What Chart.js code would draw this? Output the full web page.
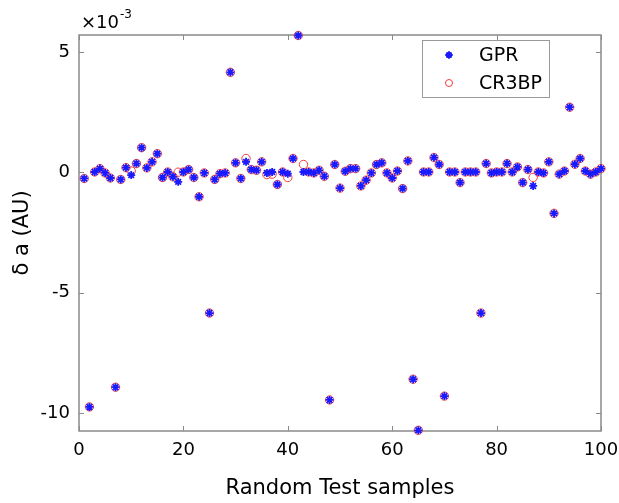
<!DOCTYPE html>
<html>
<head>
<meta charset="utf-8">
<script src="https://cdn.jsdelivr.net/npm/chart.js@4/dist/chart.umd.min.js"></script>
<style>
html,body{margin:0;padding:0;background:#fff;}
#wrap{width:619px;height:503px;}
</style>
</head>
<body>
<div id="wrap"><canvas id="c" width="619" height="503"></canvas></div>
<script>
// Sample index 1..100
const samples = [];
for (let i = 1; i <= 100; i++) samples.push(i);

// delta a values, in units of 1e-3 AU
const gprValues = [
  -0.26, -9.75, 0.01, 0.15, -0.03, -0.24, -8.93, -0.30, 0.19, -0.12,
   0.36,  1.02, 0.18, 0.43,  0.77, -0.22,  0.01, -0.19, -0.40, 0.01,
   0.11, -0.22, -1.02, -0.03, -5.85, -0.30, -0.06, -0.03, 4.15, 0.39,
  -0.26,  0.43, 0.11, 0.08,  0.43, -0.03,  0.01, -0.51,  0.01, -0.06,
   0.57,  5.68, 0.01, 0.01, -0.03,  0.08, -0.17, -9.46,  0.32, -0.66,
   0.04,  0.15, 0.15, -0.57, -0.33, -0.03, 0.32,  0.39, -0.03, -0.24,
   0.05, -0.68, 0.47, -8.60, -10.72, 0.01, 0.01,  0.61,  0.32, -9.30,
   0.01,  0.01, -0.43, 0.01,  0.01,  0.01, -5.85, 0.36, -0.03,  0.01,
   0.01,  0.36, 0.01, 0.22, -0.43,  0.11, -0.57,  0.01, -0.03,  0.43,
  -1.71, -0.08, 0.05, 2.70,  0.33,  0.57,  0.05, -0.08,  0.01,  0.15
];
const cr3bpValues = [
  -0.26, -9.75, 0.01, 0.15, -0.03, -0.24, -8.93, -0.30, 0.19, 0.05,
   0.36,  1.02, 0.18, 0.43,  0.77, -0.22,  0.01, -0.19, 0.00, 0.01,
   0.11, -0.22, -1.02, -0.03, -5.85, -0.30, -0.06, -0.03, 4.15, 0.39,
  -0.26,  0.57, 0.11, 0.08,  0.43, -0.10, -0.08, -0.51,  0.01, -0.22,
   0.57,  5.68, 0.32, 0.01, -0.03,  0.08, -0.17, -9.46,  0.32, -0.66,
   0.04,  0.15, 0.15, -0.57, -0.33, -0.03, 0.32,  0.39, -0.03, -0.24,
   0.05, -0.68, 0.47, -8.60, -10.72, 0.01, 0.01,  0.61,  0.32, -9.30,
   0.01,  0.01, -0.43, 0.01,  0.01,  0.01, -5.85, 0.36, -0.03,  0.01,
   0.01,  0.36, 0.01, 0.22, -0.43,  0.11, -0.22,  0.01, -0.03,  0.43,
  -1.71, -0.08, 0.05, 2.70,  0.33,  0.57,  0.05, -0.08,  0.01,  0.15
];
const xTicks = [0, 20, 40, 60, 80, 100];
const yTicks = [-10, -5, 0, 5];
const seriesNames = ['GPR', 'CR3BP'];
const xTitle = 'Random Test samples';
const yTitle = 'δ a (AU)';

const FONT = "'DejaVu Sans', 'Liberation Sans', Arial, sans-serif";
const AXIS_COLOR = '#8a8a8a';

const framePlugin = {
  id: 'frame',
  beforeDatasetsDraw(chart) {
    const {ctx, chartArea: a, scales} = chart;
    ctx.save();
    ctx.strokeStyle = AXIS_COLOR;
    ctx.lineWidth = 1.5;
    ctx.strokeRect(a.left, a.top, a.right - a.left, a.bottom - a.top);
    ctx.lineWidth = 1;
    const tl = 5;
    ctx.beginPath();
    xTicks.forEach(v => {
      const x = Math.round(scales.x.getPixelForValue(v)) + 0.5;
      ctx.moveTo(x, a.bottom); ctx.lineTo(x, a.bottom - tl);
      ctx.moveTo(x, a.top); ctx.lineTo(x, a.top + tl);
    });
    yTicks.forEach(v => {
      const y = Math.round(scales.y.getPixelForValue(v)) + 0.5;
      ctx.moveTo(a.left, y); ctx.lineTo(a.left + tl, y);
      ctx.moveTo(a.right, y); ctx.lineTo(a.right - tl, y);
    });
    ctx.stroke();
    ctx.restore();
  },
  afterDraw(chart) {
    const {ctx, chartArea: a} = chart;
    ctx.save();
    // exponent label
    ctx.fillStyle = '#000';
    ctx.textBaseline = 'alphabetic';
    ctx.textAlign = 'left';
    ctx.font = "18px " + FONT;
    ctx.fillText('×10', a.left + 2, 28);
    const w = ctx.measureText('×10').width;
    ctx.font = "12px " + FONT;
    ctx.fillText('-3', a.left + 2 + w + 1, 18);
    // legend box
    const bx = 422, by = 40, bw = 127, bh = 57;
    ctx.fillStyle = '#fff';
    ctx.fillRect(bx, by, bw, bh);
    ctx.strokeStyle = '#9a9a9a';
    ctx.lineWidth = 1;
    ctx.strokeRect(bx + 0.5, by + 0.5, bw, bh);
    const rows = [55, 83];
    chart.data.datasets.forEach((ds, i) => {
      const y = rows[i];
      const x = 449;
      ctx.strokeStyle = ds.borderColor;
      ctx.lineWidth = ds.borderWidth;
      if (i === 0) {
        Chart.helpers.drawPoint(ctx, {pointStyle: 'star', radius: 3.5, rotation: 0, borderWidth: 1.5}, x, y);
        ctx.stroke();
      } else {
        ctx.beginPath();
        ctx.arc(x, y, 3.5, 0, Math.PI * 2);
        ctx.stroke();
      }
      ctx.fillStyle = '#000';
      ctx.font = "19px " + FONT;
      ctx.textBaseline = 'middle';
      ctx.fillText(ds.label, 479, y + 1);
    });
    ctx.restore();
  }
};

new Chart(document.getElementById('c'), {
  type: 'scatter',
  data: {
    datasets: [
      {
        label: seriesNames[0],
        data: samples.map((s, i) => ({x: s, y: gprValues[i]})),
        pointStyle: 'star',
        pointRadius: 4,
        borderColor: '#1a1aff',
        backgroundColor: '#1a1aff',
        borderWidth: 1.8,
        clip: false
      },
      {
        label: seriesNames[1],
        data: samples.map((s, i) => ({x: s, y: cr3bpValues[i]})),
        pointStyle: 'circle',
        pointRadius: 4.2,
        borderColor: '#f04040',
        backgroundColor: 'rgba(0,0,0,0)',
        borderWidth: 1,
        clip: false
      }
    ]
  },
  options: {
    responsive: false,
    animation: false,
    devicePixelRatio: 1,
    layout: {padding: {top: 35, right: 18, left: 0, bottom: 0}},
    plugins: {legend: {display: false}, tooltip: {enabled: false}},
    scales: {
      x: {
        type: 'linear',
        min: 0, max: 100,
        afterBuildTicks: s => { s.ticks = xTicks.map(v => ({value: v})); },
        afterFit: s => { s.height = 72; s.paddingLeft = 0; s.paddingRight = 0; },
        grid: {display: false, drawTicks: false},
        border: {display: false},
        ticks: {color: '#000', font: {family: FONT, size: 18}, padding: 9, maxRotation: 0, autoSkip: false},
        title: {display: true, text: xTitle, color: '#000', font: {family: FONT, size: 21}, padding: {top: 0, bottom: 2}}
      },
      y: {
        type: 'linear',
        min: -10.75, max: 5.7,
        afterBuildTicks: s => { s.ticks = yTicks.map(v => ({value: v})); },
        afterFit: s => { s.width = 79; s.paddingTop = 0; s.paddingBottom = 0; },
        grid: {display: false, drawTicks: false},
        border: {display: false},
        ticks: {color: '#000', font: {family: FONT, size: 18}, padding: 9, autoSkip: false},
        title: {display: true, text: yTitle, color: '#000', font: {family: FONT, size: 21}, padding: {top: 10, bottom: 0}}
      }
    }
  },
  plugins: [framePlugin]
});
</script>
</body>
</html>
